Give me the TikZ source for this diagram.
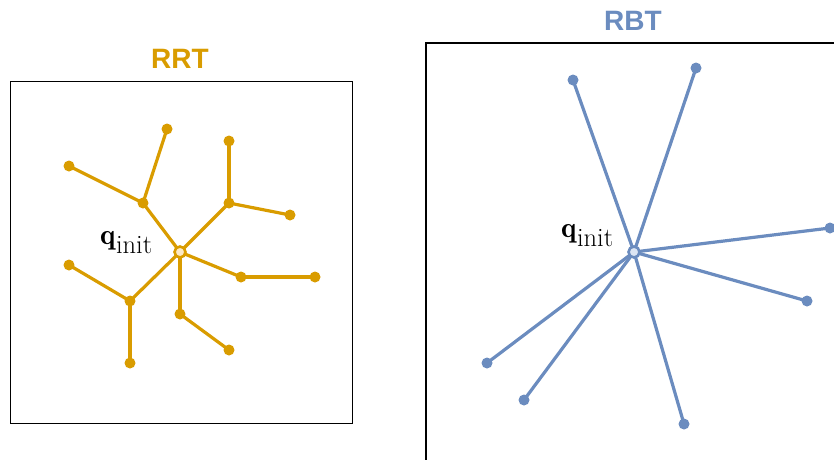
\documentclass[tikz,border=0pt]{standalone}
\usepackage{fontspec}
\newfontfamily\titlefont{Liberation Sans}
\newcommand{\qinitlabel}{{\fontsize{29}{29}\selectfont$\mathbf{q}$}\kern0.5pt\raisebox{-9.5pt}{\fontsize{26.5}{26.5}\selectfont init}}
\begin{document}
\begin{tikzpicture}[x=1pt,y=-1pt,
  dotO/.style={circle,fill=rrtc,inner sep=0pt,minimum size=11pt},
  dotB/.style={circle,fill=rbtc,inner sep=0pt,minimum size=11pt},
  rootO/.style={circle,draw=rrtc,fill=rrtl,line width=2.6pt,inner sep=0pt,minimum size=11pt},
  rootB/.style={circle,draw=rbtc,fill=rbtl,line width=2.6pt,inner sep=0pt,minimum size=11pt},
  edgeO/.style={draw=rrtc,line width=3.2pt},
  edgeB/.style={draw=rbtc,line width=3.2pt},
  ttl/.style={font=\titlefont\bfseries\fontsize{28}{30}\selectfont},
  lbl/.style={inner sep=0pt,anchor=base west}]
\definecolor{rrtc}{HTML}{D99C00}
\definecolor{rrtl}{HTML}{FCE9C6}
\definecolor{rbtc}{HTML}{6B8CBF}
\definecolor{rbtl}{HTML}{DCE5F3}
\clip (0,0) rectangle (834,459);
% boxes
\draw[line width=1pt] (10,81) rectangle (352,423);
\draw[line width=1.2pt] (426,43) rectangle (850,470);
% titles
\node[ttl,text=rrtc] (t1) at (180,59) {RRT};
\node[ttl,text=rbtc] (t2) at (633,21) {RBT};
% RRT nodes
\coordinate (c) at (180,252);
\node[dotO] (a1) at (143,203) {};
\node[dotO] (a2) at (167,129) {};
\node[dotO] (a3) at (69,166) {};
\node[dotO] (b1) at (229,203) {};
\node[dotO] (b2) at (229,141) {};
\node[dotO] (b3) at (290,215) {};
\node[dotO] (d1) at (241,277) {};
\node[dotO] (d2) at (315,277) {};
\node[dotO] (e1) at (180,314) {};
\node[dotO] (e2) at (229,350) {};
\node[dotO] (f1) at (130,301) {};
\node[dotO] (f2) at (69,265) {};
\node[dotO] (f3) at (130,363) {};
\foreach \u/\v in {c/a1,a1/a2,a1/a3,c/b1,b1/b2,b1/b3,c/d1,d1/d2,c/e1,e1/e2,c/f1,f1/f2,f1/f3}
  \path[edgeO] (\u.center) -- (\v.center);
\node[rootO] (r1) at (c) {};
\node[lbl] (q1) at (100,244) {\qinitlabel};
% RBT nodes
\coordinate (C) at (634,252);
\node[dotB] (g1) at (573,80) {};
\node[dotB] (g2) at (696,68) {};
\node[dotB] (g3) at (830,228) {};
\node[dotB] (g4) at (807,301) {};
\node[dotB] (g5) at (684,424) {};
\node[dotB] (g6) at (524,400) {};
\node[dotB] (g7) at (487,363) {};
\foreach \v in {g1,g2,g3,g4,g5,g6,g7}
  \path[edgeB] (C) -- (\v.center);
\node[rootB] (r2) at (C) {};
\node[lbl] (q2) at (561,237) {\qinitlabel};
\end{tikzpicture}
\end{document}
